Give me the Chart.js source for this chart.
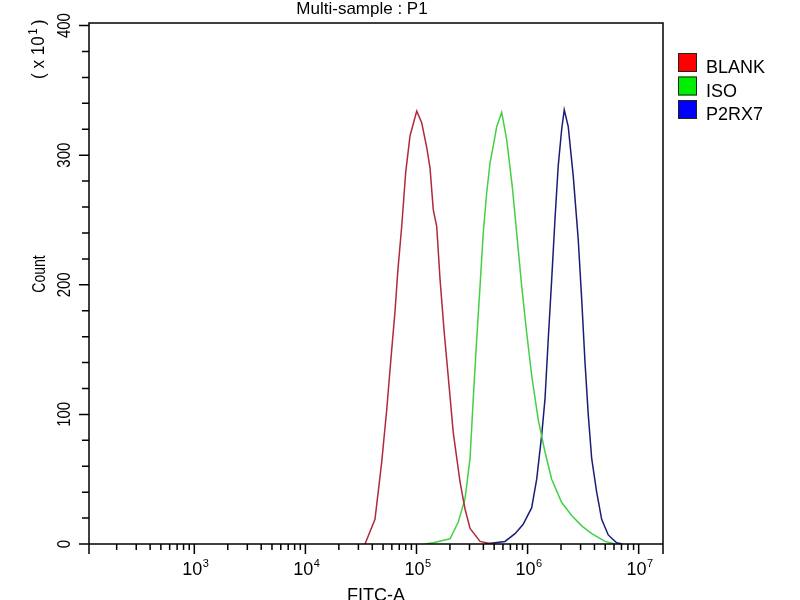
<!DOCTYPE html>
<html>
<head>
<meta charset="utf-8">
<title>Multi-sample : P1</title>
<script src="https://cdn.jsdelivr.net/npm/chart.js@4.4.1/dist/chart.umd.min.js"></script>
<style>
    html, body { margin: 0; padding: 0; background: #fff; }
    #wrap { width: 800px; height: 600px; }
</style>
</head>
<body>
<div id="wrap"><canvas id="histogram" width="800" height="600"></canvas></div>
<script>
// FITC-A intensity (x) and count (y, in units of 10^1)
const blankX = [34400, 42300, 48600, 54000, 58900, 64000, 67800, 73600, 80000, 87500,
    100500, 111400, 123600, 132400, 141600, 152100, 163000, 177800, 193200, 214300,
    246600, 273500, 303400, 373300, 478600];
const blankY = [0, 19, 63, 104, 143, 179, 210, 245, 287, 315,
    334, 325, 306, 290, 258, 245, 204, 163, 129, 86,
    48, 27, 12, 2, 0];

const isoX = [119400, 140900, 200400, 237700, 273500, 303400, 324300, 348300, 373300, 399000,
    428500, 459200, 490900, 527200, 584800, 648600, 727800, 798000, 885100, 981700,
    1089000, 1247000, 1435000, 1648000, 2028000, 2495000, 3069000, 3776000, 4977000, 6124000];
const isoY = [0, 1, 4, 17, 35, 66, 112, 158, 199, 240,
    271, 294, 307, 322, 333, 312, 276, 240, 199, 163,
    130, 96, 71, 50, 32, 22, 14, 8, 2, 0];

const p2rx7X = [414000, 626600, 770900, 909900, 1089000, 1208000, 1340000, 1435000, 1535000, 1648000,
    1766000, 1888000, 2028000, 2138000, 2323000, 2576000, 2858000, 3069000, 3289000, 3516000,
    3776000, 4188000, 4645000, 5321000, 6339000, 7079000];
const p2rx7Y = [0, 2, 8, 15, 28, 50, 84, 112, 158, 204,
    251, 292, 320, 335, 322, 284, 235, 189, 140, 100,
    66, 40, 19, 7, 1, 0];

const seriesNames = ["BLANK", "ISO", "P2RX7"];
const xTickExponents = [3, 4, 5, 6, 7];
const yTickValues = [0, 100, 200, 300, 400];

const FONT = "'Liberation Sans', Arial, sans-serif";
const lineColors = ["#b02a3c", "#44d044", "#1c1c78"];
const keyColors = ["#ff0000", "#00ee00", "#0000ff"];

function toPoints(xs, ys) {
    return xs.map(function (v, i) { return { x: v, y: ys[i] }; });
}

// text turned 90 degrees so it reads bottom to top
function upText(ctx, text, x, y, size, squeeze, align) {
    ctx.save();
    ctx.translate(x, y);
    ctx.rotate(-Math.PI / 2);
    ctx.scale(squeeze, 1);
    ctx.font = size + "px " + FONT;
    ctx.textAlign = align || "center";
    ctx.textBaseline = "alphabetic";
    ctx.fillText(text, 0, 0);
    ctx.restore();
}

const axisFrame = {
    id: "axisFrame",
    afterDraw: function (chart) {
        const ctx = chart.ctx;
        const a = chart.chartArea;
        const xs = chart.scales.x;
        const ys = chart.scales.y;

        ctx.save();
        ctx.strokeStyle = "#000";
        ctx.fillStyle = "#000";
        ctx.lineWidth = 1.5;

        // frame, with left/right sides running past the x axis
        ctx.beginPath();
        ctx.moveTo(a.left, a.bottom + 10);
        ctx.lineTo(a.left, a.top);
        ctx.lineTo(a.right, a.top);
        ctx.lineTo(a.right, a.bottom + 10);
        ctx.moveTo(a.left, a.bottom);
        ctx.lineTo(a.right, a.bottom);
        ctx.stroke();

        // x ticks: decades long, 2..9 short
        ctx.beginPath();
        for (let e = 2; e <= 7; e++) {
            for (let m = 1; m <= 9; m++) {
                const v = m * Math.pow(10, e);
                if (v < xs.min || v > xs.max) continue;
                const px = xs.getPixelForValue(v);
                ctx.moveTo(px, a.bottom);
                ctx.lineTo(px, a.bottom + (m === 1 ? 10 : 6));
            }
        }
        // y ticks every 20, long at hundreds
        for (let v = 0; v <= 400; v += 20) {
            const py = ys.getPixelForValue(v);
            ctx.moveTo(a.left, py);
            ctx.lineTo(a.left - (v % 100 === 0 ? 10 : 7), py);
        }
        ctx.stroke();

        // x tick labels 10^n
        xTickExponents.forEach(function (e) {
            const px = xs.getPixelForValue(Math.pow(10, e));
            ctx.font = "18px " + FONT;
            const wBase = ctx.measureText("10").width;
            ctx.font = "11px " + FONT;
            const wSup = ctx.measureText(String(e)).width;
            const left = px - (wBase + wSup) / 2 + 1;
            ctx.textAlign = "left";
            ctx.font = "18px " + FONT;
            ctx.fillText("10", left, 575);
            ctx.font = "11px " + FONT;
            ctx.fillText(String(e), left + wBase + 0.5, 567);
        });

        // y tick labels
        yTickValues.forEach(function (v) {
            upText(ctx, String(v), 70, ys.getPixelForValue(v), 18, 0.83);
        });

        // axis titles
        ctx.textAlign = "center";
        ctx.font = "18px " + FONT;
        ctx.fillText("FITC-A", (a.left + a.right) / 2, 601);
        upText(ctx, "Count", 45, 274, 18, 0.78);

        // (x 10^1) multiplier
        ctx.save();
        ctx.translate(44, 79);
        ctx.rotate(-Math.PI / 2);
        ctx.scale(0.95, 1);
        ctx.textAlign = "left";
        ctx.font = "18px " + FONT;
        const w1 = ctx.measureText("( x 10").width;
        ctx.fillText("( x 10", 0, 0);
        ctx.font = "12px " + FONT;
        const w2 = ctx.measureText("1").width;
        ctx.fillText("1", w1 + 1.5, -7);
        ctx.font = "18px " + FONT;
        ctx.fillText(")", w1 + w2 + 5, 0);
        ctx.restore();

        // title
        ctx.textAlign = "center";
        ctx.font = "17px " + FONT;
        ctx.fillText("Multi-sample : P1", 362, 14);

        // key
        seriesNames.forEach(function (name, i) {
            const top = 53 + i * 23.5;
            ctx.fillStyle = keyColors[i];
            ctx.fillRect(678, top, 19, 19);
            ctx.lineWidth = 1;
            ctx.strokeStyle = "#222";
            ctx.strokeRect(678.5, top + 0.5, 18, 18);
            ctx.fillStyle = "#000";
            ctx.textAlign = "left";
            ctx.font = "18px " + FONT;
            ctx.fillText(name, 706, top + 20);
        });

        ctx.restore();
    }
};

new Chart(document.getElementById("histogram").getContext("2d"), {
    type: "line",
    data: {
        datasets: [{
            label: seriesNames[0],
            data: toPoints(blankX, blankY),
            borderColor: lineColors[0]
        }, {
            label: seriesNames[1],
            data: toPoints(isoX, isoY),
            borderColor: lineColors[1]
        }, {
            label: seriesNames[2],
            data: toPoints(p2rx7X, p2rx7Y),
            borderColor: lineColors[2]
        }]
    },
    options: {
        responsive: false,
        animation: false,
        events: [],
        layout: { padding: { left: 89, right: 137, top: 23, bottom: 56 } },
        elements: {
            point: { radius: 0 },
            line: { borderWidth: 1.5, tension: 0, fill: false }
        },
        plugins: {
            legend: { display: false },
            tooltip: { enabled: false },
            title: { display: false }
        },
        scales: {
            x: { type: "logarithmic", min: 112.7, max: 16560000, display: false },
            y: { type: "linear", min: 0, max: 402, display: false }
        }
    },
    plugins: [axisFrame]
});
</script>
</body>
</html>
